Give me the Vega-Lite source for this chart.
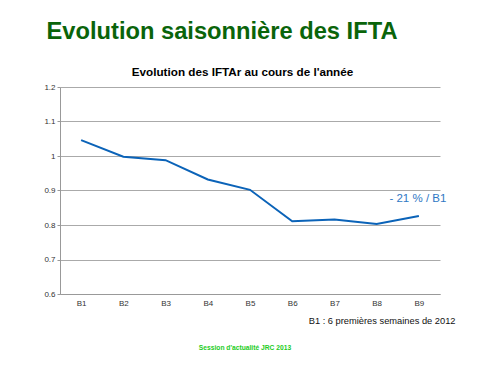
{
  "$schema": "https://vega.github.io/schema/vega-lite/v6.json",
  "autosize": "none",
  "width": 380,
  "height": 207,
  "padding": {"left": 60, "top": 87, "right": 51, "bottom": 76},
  "background": "white",
  "config": {
    "font": "Liberation Sans",
    "view": {"stroke": null}
  },
  "title": {
    "text": "Evolution saisonnière des IFTA",
    "anchor": "middle",
    "frame": "group",
    "dx": -28,
    "offset": 22,
    "font": "Liberation Sans",
    "fontSize": 23.7,
    "fontWeight": "bold",
    "color": "#0a640a"
  },
  "resolve": {"axis": {"y": "independent"}},
  "data": {
    "values": [
      {"period": "B1", "ifta": 1.046},
      {"period": "B2", "ifta": 0.998},
      {"period": "B3", "ifta": 0.988},
      {"period": "B4", "ifta": 0.932},
      {"period": "B5", "ifta": 0.902},
      {"period": "B6", "ifta": 0.811},
      {"period": "B7", "ifta": 0.816},
      {"period": "B8", "ifta": 0.803},
      {"period": "B9", "ifta": 0.826}
    ]
  },
  "layer": [
    {
      "mark": {"type": "line", "color": "#0b63b8", "strokeWidth": 2},
      "encoding": {
        "x": {
          "field": "period",
          "type": "ordinal",
          "scale": {"type": "point", "padding": 0.5},
          "axis": {
            "orient": "bottom",
            "labelAngle": 0,
            "labelFontSize": 8,
            "labelColor": "#333333",
            "labelPadding": 5,
            "domainColor": "#999999",
            "tickSize": 0,
            "title": "B1 : 6 premières semaines de 2012",
            "titleFontSize": 9.3,
            "titleFontWeight": "normal",
            "titleColor": "#111111",
            "titleAnchor": "end",
            "titleAlign": "right",
            "titleX": 395,
            "titleY": 26,
            "titleBaseline": "middle"
          }
        },
        "y": {
          "field": "ifta",
          "type": "quantitative",
          "scale": {"domain": [0.6, 1.2], "zero": false, "nice": false},
          "axis": {
            "values": [0.6, 0.7, 0.8, 0.9, 1.0, 1.1, 1.2],
            "labelOverlap": false,
            "format": ".1~f",
            "title": null,
            "labelFontSize": 8,
            "labelColor": "#333333",
            "labelPadding": 2,
            "domainColor": "#999999",
            "tickColor": "#999999",
            "tickSize": 3,
            "gridColor": "#aaaaaa",
            "gridWidth": 1
          }
        }
      }
    },
    {
      "transform": [{"filter": "datum.period == 'B9'"}],
      "mark": {"type": "text", "color": "#2f78c4", "fontSize": 11.5, "dy": -17, "dx": -1},
      "encoding": {
        "x": {
          "field": "period",
          "type": "ordinal",
          "axis": {
            "orient": "top",
            "labels": false,
            "ticks": false,
            "domain": false,
            "grid": false,
            "title": "Evolution des IFTAr au cours de l'année",
            "titleFontSize": 11.7,
            "titleFontWeight": "bold",
            "titleColor": "#000000",
            "titlePadding": 10,
            "titleX": 182
          }
        },
        "y": {"field": "ifta", "type": "quantitative", "axis": null},
        "text": {"value": "- 21 % / B1"}
      }
    },
    {
      "data": {"values": [{"period": "B5", "level": 0.443, "note": "Session d'actualité JRC 2013"}]},
      "mark": {"type": "text", "color": "#22cc22", "fontSize": 6.7, "fontWeight": "bold", "dx": -5},
      "encoding": {
        "x": {"field": "period", "type": "ordinal", "axis": null},
        "y": {"field": "level", "type": "quantitative", "axis": null},
        "text": {"field": "note"}
      }
    }
  ]
}
